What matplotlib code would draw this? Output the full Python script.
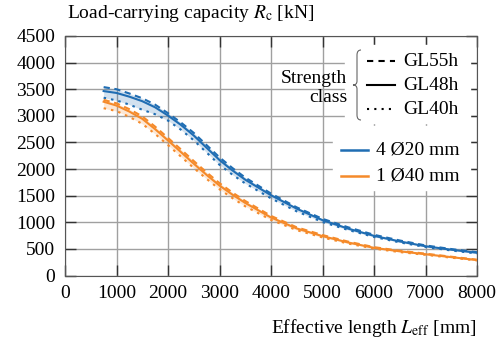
import numpy as np
import matplotlib.pyplot as plt
from matplotlib.path import Path
from matplotlib.patches import PathPatch, Rectangle

plt.rcParams['font.family'] = 'Liberation Serif'
plt.rcParams['mathtext.fontset'] = 'stix'

L = [750, 1000, 1250, 1500, 1750, 2000, 2250, 2500, 2750, 3000, 3250, 3500,
     4000, 4500, 5000, 5500, 6000, 6500, 7000, 7500, 8000]

# 4 x 20 mm rods
blue_55 = [3540, 3500, 3420, 3330, 3210, 3050, 2875, 2680, 2450, 2220, 2020, 1840,
           1540, 1280, 1065, 905, 765, 658, 565, 497, 438]
blue_48 = [3465, 3430, 3360, 3275, 3160, 3005, 2830, 2630, 2400, 2170, 1975, 1800,
           1508, 1255, 1040, 880, 745, 640, 550, 485, 427]
blue_40 = [3340, 3290, 3210, 3115, 3030, 2910, 2740, 2540, 2310, 2080, 1895, 1730,
           1450, 1205, 1005, 855, 725, 622, 535, 470, 413]

# 1 x 40 mm rod
orng_55 = [3300, 3235, 3125, 2990, 2797, 2585, 2370, 2151, 1937, 1735, 1560, 1400,
           1120, 905, 760, 636, 533, 465, 410, 353, 297]
orng_48 = [3265, 3193, 3080, 2944, 2750, 2537, 2320, 2101, 1890, 1690, 1520, 1363,
           1090, 884, 740, 620, 520, 455, 400, 345, 290]
orng_40 = [3143, 3090, 2980, 2850, 2660, 2450, 2235, 2020, 1815, 1620, 1455, 1300,
           1045, 852, 715, 600, 505, 440, 388, 335, 282]

xticks = [0, 1000, 2000, 3000, 4000, 5000, 6000, 7000, 8000]
yticks = [0, 500, 1000, 1500, 2000, 2500, 3000, 3500, 4000, 4500]

c_blue = '#1f6db3'
c_orng = '#f58a2a'
fs = 14

fig = plt.figure(figsize=(4.99, 3.40), dpi=100)
ax = fig.add_axes([65/499, 1-275.5/340, (477-65)/499, (275.5-36)/340])

def px(x, y):
    return (x/499, 1 - y/340)

for c, hi, mid, lo in [(c_blue, blue_55, blue_48, blue_40), (c_orng, orng_55, orng_48, orng_40)]:
    ax.fill_between(L, lo, hi, color=c, alpha=0.2, lw=0, zorder=3)
    ax.plot(L, hi, color=c, lw=1.5, ls=(0, (3, 2.2)), zorder=4)
    ax.plot(L, mid, color=c, lw=1.5, zorder=4)
    ax.plot(L, lo, color=c, lw=1.5, ls=(0, (1.2, 2.4)), zorder=4)

ax.set_xlim(0, 8000)
ax.set_ylim(0, 4500)
ax.set_xticks(xticks)
ax.set_xticklabels([str(v) for v in xticks], family='Liberation Serif', fontsize=fs)
ax.set_yticks(yticks)
ax.set_yticklabels([str(v) for v in yticks], family='Liberation Serif', fontsize=fs)
ax.grid(True, color='#a0a0a0', lw=1.0, zorder=0)
ax.set_axisbelow(True)
ax.tick_params(direction='in', length=8, width=1, top=True, right=True,
               colors='#333333', labelcolor='black', pad=7)
for s in ax.spines.values():
    s.set_color('#555555')

# white panels behind the legends
for (x0, y0, x1, y1) in [(345, 45, 470, 123), (333, 126, 470, 190)]:
    fig.patches.append(Rectangle(px(x0, y1), (x1-x0)/499, (y1-y0)/340,
                                 transform=fig.transFigure, color='white', zorder=1))

fig.text(*px(67, 18.5), r'Load-carrying capacity $R_\mathrm{c}$ [kN]', fontsize=fs, va='baseline')
fig.text(*px(477, 333), r'Effective length $L_\mathrm{eff}$ [mm]', fontsize=fs, ha='right', va='baseline')

# strength class legend
fig.text(*px(347, 83), 'Strength', fontsize=fs, ha='right', va='baseline', zorder=5)
fig.text(*px(347, 101.5), 'class', fontsize=fs, ha='right', va='baseline', zorder=5)
verts = [px(361, 50), px(357, 50), px(357, 55), px(357, 81), px(357, 85), px(353, 85),
         px(357, 85), px(357, 89), px(357, 115), px(357, 120), px(361, 120)]
codes = [Path.MOVETO, Path.CURVE3, Path.CURVE3, Path.LINETO, Path.CURVE3, Path.CURVE3,
         Path.CURVE3, Path.CURVE3, Path.LINETO, Path.CURVE3, Path.CURVE3]
fig.patches.append(PathPatch(Path(verts, codes), transform=fig.transFigure, fill=False,
                             lw=0.8, color='#666666', zorder=5))
for y, ls, lab in [(61, (0, (3, 2.5)), 'GL55h'), (85, '-', 'GL48h'), (109, (0, (1, 2.5)), 'GL40h')]:
    (x0, yy), (x1, _) = px(367, y), px(395, y)
    fig.add_artist(plt.Line2D([x0, x1], [yy, yy], color='black', lw=1.5, ls=ls, zorder=5))
    fig.text(*px(403, y), lab, fontsize=fs, va='center', zorder=5)

# rod legend
for y, c, lab in [(150, c_blue, '4 Ø20 mm'), (176, c_orng, '1 Ø40 mm')]:
    (x0, yy), (x1, _) = px(341, y), px(368, y)
    fig.add_artist(plt.Line2D([x0, x1], [yy, yy], color=c, lw=1.8, zorder=5))
    fig.text(*px(376, y), lab, fontsize=fs, va='center', zorder=5)

fig.savefig('out.png', dpi=100)
